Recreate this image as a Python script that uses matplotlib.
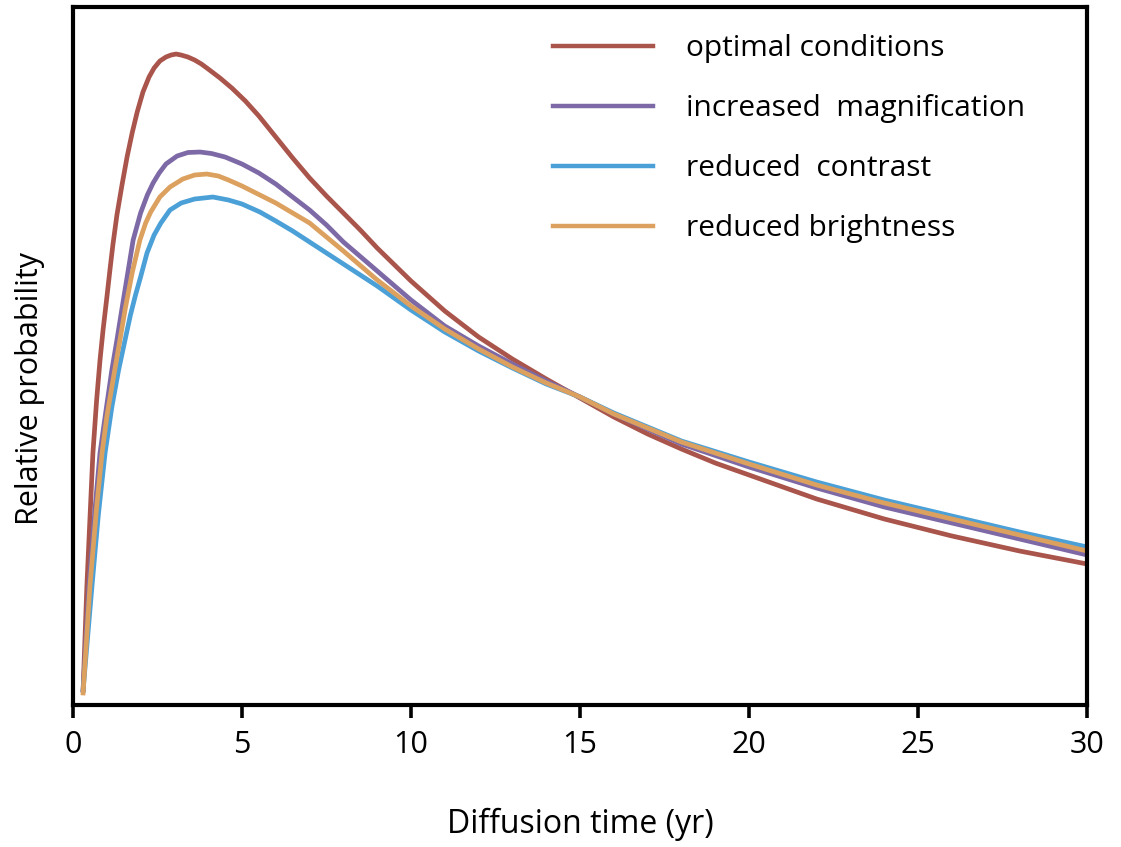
import matplotlib
matplotlib.use("Agg")
import matplotlib.pyplot as plt

# Relative probability curves (arbitrary units)
x_optimal = [0.3, 0.41, 0.5, 0.59, 0.7, 0.8, 0.89, 1.0, 1.1, 1.18, 1.3, 1.45, 1.6, 1.75, 1.9,
             2.07, 2.25, 2.4, 2.57, 2.75, 2.9, 3.05, 3.2, 3.4, 3.6, 3.8, 4.0, 4.35, 4.7, 5.1,
             5.5, 6.0, 6.5, 7.0, 7.5, 8.0, 8.5, 9.0, 10.0, 11.0, 12.0, 13.0, 14.0, 15.0, 16.0,
             17.0, 18.0, 19.0, 20.0, 22.0, 24.0, 26.0, 28.0, 30.0]
y_optimal = [0.15, 1.18, 1.85, 2.52, 3.05, 3.45, 3.75, 4.07, 4.37, 4.60, 4.90, 5.20, 5.48, 5.72, 5.93,
             6.13, 6.28, 6.37, 6.44, 6.48, 6.50, 6.51, 6.50, 6.48, 6.45, 6.41, 6.36, 6.27, 6.17, 6.04,
             5.89, 5.68, 5.47, 5.27, 5.09, 4.92, 4.75, 4.57, 4.24, 3.94, 3.68, 3.46, 3.26, 3.07, 2.88,
             2.71, 2.56, 2.42, 2.30, 2.06, 1.86, 1.69, 1.54, 1.41]

x_magnif = [0.3, 0.47, 0.65, 0.8, 1.0, 1.15, 1.3, 1.5, 1.65, 1.78, 2.0, 2.2, 2.37, 2.55, 2.75,
            3.08, 3.4, 3.76, 4.1, 4.5, 5.0, 5.5, 6.0, 6.5, 7.0, 7.5, 8.0, 9.0, 10.0, 11.0,
            12.0, 13.0, 14.0, 15.0, 16.0, 18.0, 20.0, 22.0, 24.0, 26.0, 28.0, 30.0]
y_magnif = [0.15, 1.18, 1.95, 2.52, 3.00, 3.35, 3.65, 4.07, 4.38, 4.65, 4.92, 5.10, 5.22, 5.32, 5.41,
            5.49, 5.525, 5.53, 5.515, 5.48, 5.41, 5.32, 5.21, 5.08, 4.95, 4.80, 4.63, 4.34, 4.05, 3.79,
            3.59, 3.41, 3.24, 3.08, 2.91, 2.61, 2.38, 2.17, 1.98, 1.82, 1.66, 1.50]

x_contrast = [0.3, 0.56, 0.75, 0.95, 1.15, 1.35, 1.54, 1.7, 1.85, 2.0, 2.19, 2.4, 2.6, 2.87, 3.2,
              3.6, 4.14, 4.6, 5.0, 5.53, 6.0, 6.5, 7.0, 7.5, 8.0, 9.0, 10.0, 11.0, 12.0, 13.0,
              14.0, 15.0, 16.0, 18.0, 20.0, 22.0, 24.0, 26.0, 28.0, 30.0]
y_contrast = [0.15, 1.18, 1.90, 2.52, 2.98, 3.35, 3.65, 3.90, 4.10, 4.28, 4.52, 4.70, 4.82, 4.95, 5.02,
              5.06, 5.08, 5.05, 5.01, 4.93, 4.84, 4.74, 4.63, 4.52, 4.41, 4.19, 3.95, 3.73, 3.54, 3.37,
              3.21, 3.08, 2.92, 2.64, 2.43, 2.23, 2.05, 1.89, 1.73, 1.58]

x_bright = [0.3, 0.5, 0.7, 0.86, 1.0, 1.2, 1.39, 1.55, 1.75, 1.98, 2.15, 2.3, 2.57, 2.87, 3.25,
            3.6, 3.96, 4.3, 4.6, 5.0, 5.53, 6.0, 6.5, 7.0, 7.5, 8.0, 9.0, 10.0, 11.0, 12.0,
            13.0, 14.0, 15.0, 16.0, 18.0, 20.0, 22.0, 24.0, 26.0, 28.0, 30.0]
y_bright = [0.12, 1.18, 1.98, 2.52, 2.88, 3.28, 3.65, 3.97, 4.32, 4.65, 4.82, 4.93, 5.08, 5.18, 5.26,
            5.30, 5.31, 5.29, 5.25, 5.19, 5.10, 5.02, 4.92, 4.82, 4.68, 4.54, 4.25, 3.99, 3.76, 3.56,
            3.38, 3.22, 3.08, 2.91, 2.63, 2.41, 2.20, 2.02, 1.86, 1.70, 1.54]

labels = ["optimal conditions", "increased  magnification", "reduced  contrast", "reduced brightness"]
colors = ["#aa554b", "#7d69a5", "#4ba0d7", "#dca05f"]
x_ticks = [0, 5, 10, 15, 20, 25, 30]

plt.rcParams["font.family"] = ["Open Sans", "DejaVu Sans"]

fig = plt.figure(figsize=(11.21, 8.47), dpi=100)
ax = fig.add_axes([0.0651, 0.1677, 0.9046, 0.824])

series = [(x_optimal, y_optimal), (x_magnif, y_magnif), (x_contrast, y_contrast), (x_bright, y_bright)]
for (xs, ys), lab, col in zip(series, labels, colors):
    ax.plot(xs, ys, color=col, lw=3.4, label=lab, solid_joinstyle="round")

ax.set_xlim(0, 30)
ax.set_ylim(0, 6.98)
ax.set_xticks(x_ticks)
ax.set_yticks([])
ax.tick_params(axis="x", direction="out", length=9, width=2.6, labelsize=22, pad=9, colors="black")
for s in ax.spines.values():
    s.set_linewidth(3.0)
    s.set_color("black")

ax.set_xlabel("Diffusion time (yr)", fontsize=23, va="center")
ax.xaxis.set_label_coords(0.5, -0.171)
ax.set_ylabel("Relative probability", fontsize=22, va="center")
ax.yaxis.set_label_coords(-0.0424, 0.454)

leg = ax.legend(loc="upper left", bbox_to_anchor=(0.4734, 0.961), frameon=False, fontsize=21.5,
                handlelength=3.35, handletextpad=1.1, labelspacing=1.04,
                borderaxespad=0, borderpad=0)
for h in leg.get_lines():
    h.set_linewidth(3.2)

fig.savefig("out.png", dpi=100, facecolor="white")
